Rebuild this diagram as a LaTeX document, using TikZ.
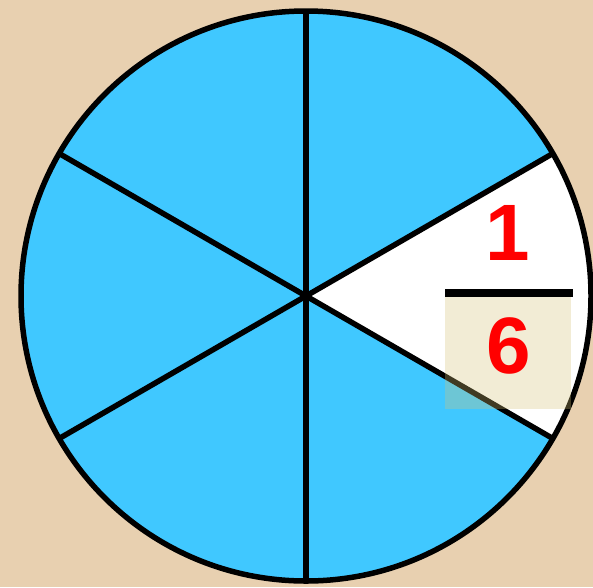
\documentclass[tikz,border=0pt]{standalone}
\usepackage{fontspec}
\setmainfont{Liberation Sans}
\usetikzlibrary{calc}
\definecolor{bgtan}{RGB}{232,208,176}
\definecolor{skyb}{RGB}{64,200,255}
\definecolor{boxc}{RGB}{215,195,118}
\definecolor{numred}{RGB}{255,0,0}
\tikzset{
  spoke/.style={line width=5.5pt, black},
  digit/.style={inner sep=0pt, text=numred, font=\fontsize{80}{80}\selectfont\bfseries},
}
\begin{document}
\begin{tikzpicture}[x=1pt,y=-1pt]
\useasboundingbox (0,0) rectangle (593,587);
\fill[bgtan] (0,0) rectangle (593,587);
\coordinate (c) at (306,296);
\def\R{285}
\fill[skyb] (c) circle[radius=\R];
\fill[white] (c) -- ($(c)+(-30:\R)$) arc[start angle=-30, end angle=30, radius=\R] -- cycle;
\coordinate (a30) at ($(c)+(30:\R)$);
\coordinate (a90) at ($(c)+(90:\R)$);
\coordinate (a150) at ($(c)+(150:\R)$);
\coordinate (a210) at ($(c)+(210:\R)$);
\coordinate (a270) at ($(c)+(270:\R)$);
\coordinate (a330) at ($(c)+(330:\R)$);
\draw[spoke] (a90) -- (a270);
\draw[spoke] (a30) -- (a210);
\draw[spoke] (a150) -- (a330);
\draw[spoke] (c) circle[radius=\R];
\fill[boxc, opacity=0.3] (445,297) rectangle (571,409);
\fill[black] (445,289) rectangle (573,297);
\node[digit] (one) at (508,233) {1};
\node[digit] (six) at (509,346) {6};
\end{tikzpicture}
\end{document}
